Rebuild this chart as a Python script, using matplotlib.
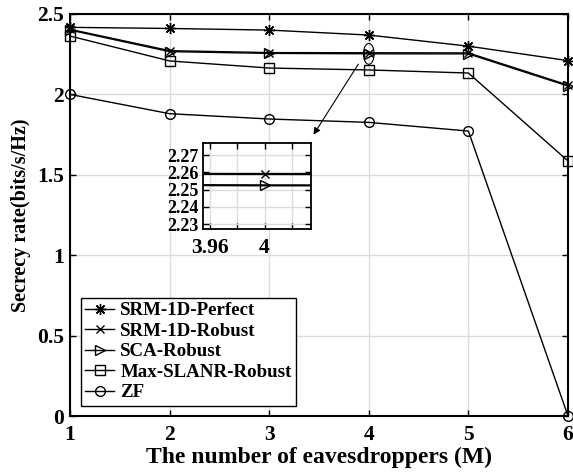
import numpy as np
from matplotlib import pyplot as plt
from matplotlib.patches import Ellipse

plt.rcParams['font.family'] = ['Liberation Serif', 'DejaVu Serif']
plt.rcParams['font.weight'] = 'bold'
plt.rcParams['axes.labelweight'] = 'bold'
plt.rcParams['font.size'] = 15

# data
M = [1, 2, 3, 4, 5, 6]
srmPerfect = [2.417, 2.41, 2.40, 2.369, 2.30, 2.21]
srmRobust = [2.405, 2.272, 2.260, 2.259, 2.258, 2.058]
scaRobust = [2.400, 2.266, 2.255, 2.2525, 2.252, 2.052]
maxSlanr = [2.363, 2.208, 2.164, 2.152, 2.133, 1.586]
zf = [2.0, 1.88, 1.847, 1.826, 1.772, 0.0]

labels = ['SRM-1D-Perfect', 'SRM-1D-Robust', 'SCA-Robust', 'Max-SLANR-Robust', 'ZF']
markers = [(8, 2, 0), 'x', '>', 's', 'o']
msizes = [8, 6, 7, 6.5, 7]
series = [srmPerfect, srmRobust, scaRobust, maxSlanr, zf]

yticks = [0, 0.5, 1, 1.5, 2, 2.5]
ytickLabels = ['0', '0.5', '1', '1.5', '2', '2.5']
insetYticks = [2.23, 2.24, 2.25, 2.26, 2.27]
insetYtickLabels = ['2.23', '2.24', '2.25', '2.26', '2.27']
insetXticks = [3.96, 3.98, 4.00, 4.02]
insetXtickLabels = ['3.96', '', '4', '']


def styleAx(ax, lw):
    ax.grid(True, color='#dcdcdc', linewidth=1.0)
    ax.set_axisbelow(True)
    ax.tick_params(direction='in', top=True, right=True, length=4, width=1.0)
    for sp in ax.spines.values():
        sp.set_linewidth(lw)


fig = plt.figure(figsize=(5.73, 4.73), dpi=100)
ax = fig.add_axes([70/573, 57/473, 498/573, 402/473])

for vals, lab, mk, ms in zip(series, labels, markers, msizes):
    ax.plot(M, vals, color='k', linewidth=1.0, marker=mk, markersize=ms,
            markerfacecolor='none', markeredgecolor='k', markeredgewidth=1.0,
            label=lab, clip_on=False)

ax.set_xlim(1, 6)
ax.set_ylim(0, 2.5)
ax.set_xticks(M)
ax.set_yticks(yticks)
ax.set_yticklabels(ytickLabels)
styleAx(ax, 1.5)
ax.tick_params(axis='x', pad=6.5, labelsize=15.5)
ax.tick_params(axis='y', pad=4.5, labelsize=15.5)
ax.set_xlabel('The number of eavesdroppers (M)', fontsize=17, labelpad=1)
ax.set_ylabel('Secrecy rate(bits/s/Hz)', fontsize=14.5, labelpad=4)

leg = ax.legend(loc='lower left', bbox_to_anchor=(0.0215, 0.025), borderaxespad=0,
                fancybox=False, edgecolor='k', framealpha=1, handlelength=1.5,
                handletextpad=0.35, labelspacing=0.17, borderpad=0.25, fontsize=13.6)
leg.get_frame().set_linewidth(1.0)

# zoom marker and arrow
ax.add_patch(Ellipse((4.0, 2.252), 0.107, 0.13, fill=False, edgecolor='k', linewidth=0.8))
ax.annotate('', xy=(3.43, 1.735), xytext=(3.91, 2.203),
            arrowprops=dict(arrowstyle='-|>', color='k', lw=0.8, mutation_scale=10))

# inset
axIn = fig.add_axes([202.7/573, 243.7/473, 107.9/573, 86/473])
for vals, mk, ms in zip(series, markers, msizes):
    axIn.plot(M, vals, color='k', linewidth=1.6, marker=mk, markersize=ms,
              markerfacecolor='none', markeredgecolor='k', markeredgewidth=1.0)
axIn.set_xlim(3.9546, 4.0338)
axIn.set_ylim(2.2271, 2.2768)
axIn.set_xticks(insetXticks)
axIn.set_xticklabels(insetXtickLabels)
axIn.set_yticks(insetYticks)
axIn.set_yticklabels(insetYtickLabels)
styleAx(axIn, 1.3)
axIn.tick_params(axis='y', pad=3, labelsize=13)
axIn.tick_params(axis='x', pad=6, labelsize=15.5)

fig.savefig('out.png', dpi=100)
